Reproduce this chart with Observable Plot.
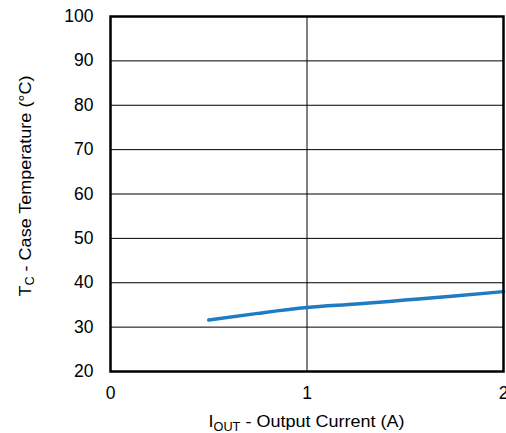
<!DOCTYPE html>
<html><head><meta charset="utf-8">
<script src="https://cdn.jsdelivr.net/npm/d3@7"></script>
<script src="https://cdn.jsdelivr.net/npm/@observablehq/plot@0.6"></script>
<style>body{margin:0;background:#fff;} svg{overflow:visible}</style>
</head><body><div id="chart"></div>
<script>
const currentA = [0.5, 0.75, 1.0, 1.25, 1.5, 1.75, 2.0];
const caseTempC = [31.6, 33.1, 34.4, 35.2, 36.1, 37.0, 38.0];
const xTicks = [0, 1, 2];
const yTicks = [20, 30, 40, 50, 60, 70, 80, 90, 100];
const data = currentA.map((x, i) => ({x, y: caseTempC[i]}));
const font = "Liberation Sans, Arial, sans-serif";

const chart = Plot.plot({
  width: 506, height: 433,
  marginLeft: 110, marginRight: 3, marginTop: 16, marginBottom: 62,
  style: {fontFamily: font, fontSize: "17.5px", color: "#000", background: "#fff"},
  x: {domain: [0, 2], ticks: xTicks, tickSize: 0, tickPadding: 15, label: null, tickFormat: d => String(d)},
  y: {domain: [20, 100], ticks: yTicks, tickSize: 0, tickPadding: 17, label: null},
  marks: [
    Plot.ruleY(yTicks.slice(1, -1), {stroke: "#000", strokeWidth: 1}),
    Plot.ruleX(xTicks.slice(1, -1), {stroke: "#000", strokeWidth: 1}),
    Plot.line(data, {x: "x", y: "y", stroke: "#1f7bc2", strokeWidth: 3.5, curve: "monotone-x"}),
    Plot.frame({stroke: "#000", strokeWidth: 2.5})
  ]
});
document.getElementById("chart").appendChild(chart);
d3.select(chart).selectAll("g[aria-label$='tick label'] text").style("font-size", "17.5px");

const svg = d3.select(chart);
const xl = svg.append("text").attr("transform", "translate(306.5,427) scale(1.06,1)").attr("text-anchor", "middle")
  .attr("font-family", font).attr("font-size", 17).attr("fill", "#000");
xl.append("tspan").text("I");
xl.append("tspan").attr("dy", 3.5).attr("font-size", 12).text("OUT");
xl.append("tspan").attr("dy", -3.5).text(" - Output Current (A)");

const yl = svg.append("text").attr("transform", "translate(30.5,186) rotate(-90) scale(1.06,1)").attr("text-anchor", "middle")
  .attr("font-family", font).attr("font-size", 17).attr("fill", "#000");
yl.append("tspan").text("T");
yl.append("tspan").attr("dy", 3.5).attr("font-size", 12).text("C");
yl.append("tspan").attr("dy", -3.5).text(" - Case Temperature (°C)");
</script></body></html>
